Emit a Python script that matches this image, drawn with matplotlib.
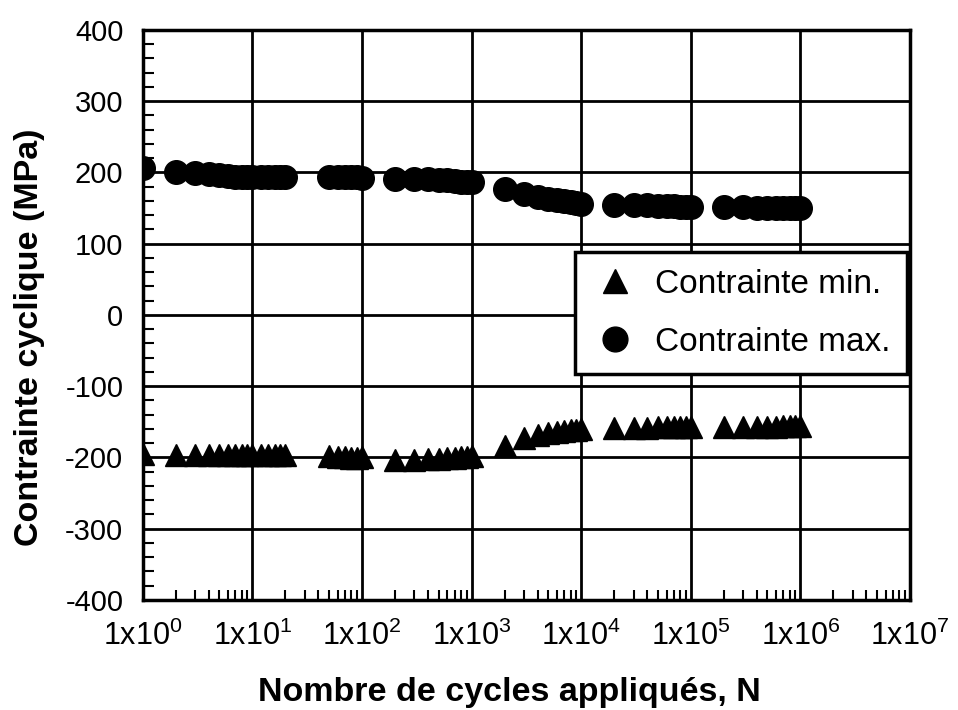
import matplotlib
matplotlib.use("Agg")
import matplotlib.pyplot as plt
from matplotlib.ticker import FixedLocator, LogLocator, MultipleLocator, NullFormatter

plt.rcParams['font.family'] = ['Liberation Sans', 'DejaVu Sans']
plt.rcParams['mathtext.fontset'] = 'custom'
plt.rcParams['mathtext.rm'] = 'Liberation Sans'
plt.rcParams['mathtext.it'] = 'Liberation Sans'
plt.rcParams['axes.unicode_minus'] = False

# Cycles at which stresses were recorded
cycles = [1, 2, 3, 4, 5, 6, 7, 8, 9, 10, 12, 14, 16, 18, 20,
          50, 60, 70, 80, 90, 100,
          200, 300, 400, 500, 600, 700, 800, 900, 1000,
          2e3, 3e3, 4e3, 5e3, 6e3, 7e3, 8e3, 9e3, 1e4,
          2e4, 3e4, 4e4, 5e4, 6e4, 7e4, 8e4, 9e4, 1e5,
          2e5, 3e5, 4e5, 5e5, 6e5, 7e5, 8e5, 9e5, 1e6]

# Maximum cyclic stress (MPa)
sigma_max = [206, 200, 199, 197, 196, 195, 194, 194, 194, 193, 193, 193, 193, 193, 193,
             194, 194, 194, 193, 193, 192,
             191, 190, 190, 189, 189, 188, 187, 186, 186,
             176, 169, 165, 163, 161, 160, 158, 157, 155,
             154, 154, 154, 153, 153, 153, 152, 152, 152,
             151, 151, 150, 150, 150, 150, 150, 150, 150]

# Minimum cyclic stress (MPa)
sigma_min = [-195, -196, -196, -197, -197, -197, -197, -197, -197, -197, -197, -197, -197, -197, -197,
             -198, -199, -200, -201, -201, -200,
             -203, -203, -202, -202, -201, -201, -200, -199, -198,
             -184, -173, -168, -166, -165, -163, -162, -161, -160,
             -159, -159, -159, -158, -158, -158, -158, -158, -158,
             -158, -158, -157, -157, -157, -156, -156, -156, -156]

xtick_vals = [1e0, 1e1, 1e2, 1e3, 1e4, 1e5, 1e6, 1e7]
xtick_labels = [r'1x10$^{%d}$' % i for i in range(8)]
ytick_vals = list(range(-400, 401, 100))

fig = plt.figure(figsize=(9.58, 7.10), dpi=100)
ax = fig.add_axes([0.149, 0.155, 0.801, 0.803])

ax.plot(cycles, sigma_min, linestyle='none', marker='^', markersize=16,
        color='black', label='Contrainte min.')
ax.plot(cycles, sigma_max, linestyle='none', marker='o', markersize=17,
        color='black', label='Contrainte max.')

ax.set_xscale('log')
ax.set_xlim(1, 1e7)
ax.set_ylim(-400, 400)

ax.xaxis.set_major_locator(FixedLocator(xtick_vals))
ax.set_xticks(xtick_vals)
ax.set_xticklabels(xtick_labels)
ax.xaxis.set_minor_locator(LogLocator(base=10, subs=range(2, 10)))
ax.xaxis.set_minor_formatter(NullFormatter())
ax.set_yticks(ytick_vals)
ax.yaxis.set_minor_locator(MultipleLocator(20))

ax.grid(True, which='major', color='black', linewidth=2)
ax.tick_params(axis='both', which='major', direction='in', length=0)
ax.tick_params(axis='x', which='major', pad=15, labelsize=22)
ax.tick_params(axis='y', which='major', pad=14, labelsize=21)
ax.tick_params(axis='x', which='minor', direction='in', length=7, width=1.5,
               bottom=True, top=False)
ax.tick_params(axis='y', which='minor', direction='in', length=8, width=1.5,
               left=True, right=False)
for sp in ax.spines.values():
    sp.set_linewidth(2.5)

ax.set_xlabel('Nombre de cycles appliqués, N', fontsize=24.5, fontweight='bold')
ax.xaxis.set_label_coords(0.478, -0.135)
ax.set_ylabel('Contrainte cyclique (MPa)', fontsize=24.5, fontweight='bold')
ax.yaxis.set_label_coords(-0.128, 0.46)

leg = ax.legend(loc='upper right', bbox_to_anchor=(0.996, 0.61), fontsize=24,
                frameon=True, fancybox=False, edgecolor='black',
                borderpad=0.5, labelspacing=0.8, handletextpad=0.5,
                handlelength=1.4, borderaxespad=0, markerscale=1.05)
leg.get_frame().set_linewidth(2.5)
leg.get_frame().set_alpha(1)

fig.savefig('out.png', dpi=100)
